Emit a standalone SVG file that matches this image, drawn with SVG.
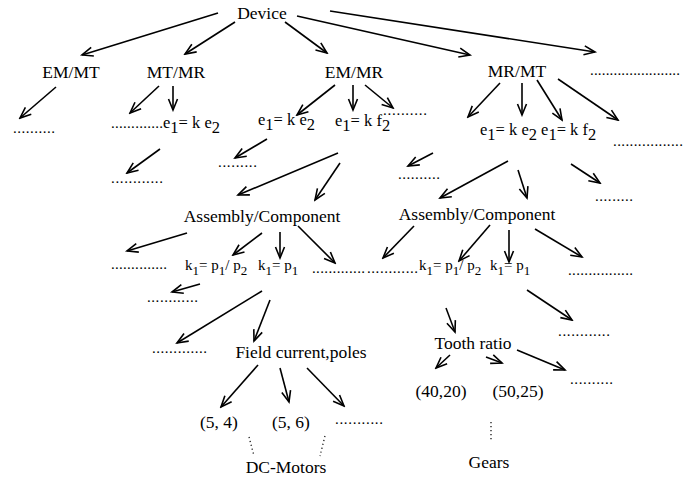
<svg xmlns="http://www.w3.org/2000/svg" width="683" height="479" viewBox="0 0 683 479">
<style>
text{font-family:"Liberation Serif","Times New Roman",serif;fill:#000}
.n{font-size:17.5px;text-anchor:middle}
.f{font-size:16.5px}
.k{font-size:15px}
.k tspan.s{font-size:13px}
.d{font-size:15px}
.c line{stroke:#000;stroke-width:1.6;marker-end:url(#ah)}
.dl{stroke:#000;stroke-width:1.2;stroke-dasharray:1.2 2.8;fill:none}
</style>
<defs>
<marker id="ah" viewBox="-12 -6 14 12" refX="0" refY="0" markerWidth="14" markerHeight="12" markerUnits="userSpaceOnUse" orient="auto">
<path d="M-11,-4.5 L0,0 L-11,4.5" fill="none" stroke="#000" stroke-width="1.6"/>
</marker>
</defs>
<rect width="683" height="479" fill="#fff"/>
<g class="c" id="connectors">
<line x1="218" y1="13" x2="82" y2="55"/>
<line x1="235" y1="22" x2="185" y2="54"/>
<line x1="285" y1="22" x2="327" y2="53"/>
<line x1="297" y1="16" x2="470" y2="55"/>
<line x1="330" y1="11" x2="595" y2="52"/>
<line x1="56" y1="87" x2="20" y2="118"/>
<line x1="159" y1="86" x2="130" y2="113"/>
<line x1="173" y1="86" x2="173" y2="110"/>
<line x1="335" y1="85" x2="297" y2="115"/>
<line x1="353" y1="85" x2="353" y2="110"/>
<line x1="365" y1="85" x2="393" y2="108"/>
<line x1="500" y1="83" x2="468" y2="117"/>
<line x1="522" y1="83" x2="522" y2="115"/>
<line x1="537" y1="80" x2="562" y2="120"/>
<line x1="558" y1="79" x2="618" y2="120"/>
<line x1="160" y1="149" x2="127" y2="173"/>
<line x1="267" y1="139" x2="235" y2="158"/>
<line x1="338" y1="153" x2="238" y2="195"/>
<line x1="340" y1="163" x2="315" y2="200"/>
<line x1="433" y1="153" x2="408" y2="166"/>
<line x1="508" y1="161" x2="440" y2="198"/>
<line x1="518" y1="170" x2="527" y2="198"/>
<line x1="571" y1="164" x2="600" y2="183"/>
<line x1="187" y1="233" x2="127" y2="251"/>
<line x1="262" y1="233" x2="233" y2="255"/>
<line x1="280" y1="232" x2="280" y2="258"/>
<line x1="298" y1="226" x2="335" y2="263"/>
<line x1="414" y1="226" x2="383" y2="258"/>
<line x1="490" y1="225" x2="459" y2="261"/>
<line x1="509" y1="230" x2="509" y2="262"/>
<line x1="535" y1="229" x2="582" y2="257"/>
<line x1="200" y1="284" x2="172" y2="292"/>
<line x1="262" y1="291" x2="177" y2="343"/>
<line x1="270" y1="300" x2="254" y2="341"/>
<line x1="527" y1="290" x2="572" y2="320"/>
<line x1="446" y1="308" x2="455" y2="332"/>
<line x1="258" y1="365" x2="221" y2="407"/>
<line x1="280" y1="368" x2="289" y2="402"/>
<line x1="307" y1="368" x2="344" y2="406"/>
<line x1="450" y1="355" x2="436" y2="368"/>
<line x1="486" y1="357" x2="502" y2="363"/>
<line x1="517" y1="350" x2="565" y2="370"/>
</g>
<g id="dotted-links">
<line class="dl" x1="249" y1="437" x2="254" y2="456"/>
<line class="dl" x1="325" y1="436" x2="320" y2="456"/>
<line class="dl" x1="491" y1="422" x2="491" y2="442"/>
</g>
<g id="device"><text class="n" x="262" y="19">Device</text></g>
<g id="em-mt"><text class="n" x="71" y="78">EM/MT</text></g>
<g id="mt-mr"><text class="n" x="176" y="78">MT/MR</text></g>
<g id="em-mr"><text class="n" x="354" y="78">EM/MR</text></g>
<g id="mr-mt"><text class="n" x="517" y="77">MR/MT</text></g>
<g id="more-top"><text class="d" x="590" y="75" textLength="90" lengthAdjust="spacing">.......................</text></g>
<g id="em-mt-more"><text class="d" x="13" y="133" textLength="42" lengthAdjust="spacing">..........</text></g>
<g id="mt-mr-eq">
<text class="d" x="111" y="128" textLength="52" lengthAdjust="spacing">.............</text>
<text class="f" x="163" y="128">e<tspan dy="5">1</tspan><tspan dy="-5">= k e</tspan><tspan dy="5">2</tspan></text>
</g>
<g id="em-mr-eq1"><text class="f" x="258" y="125">e<tspan dy="5">1</tspan><tspan dy="-5">= k e</tspan><tspan dy="5">2</tspan></text></g>
<g id="em-mr-eq2">
<text class="f" x="335" y="126">e<tspan dy="5">1</tspan><tspan dy="-5">= k f</tspan><tspan dy="5">2</tspan></text>
<text class="d" x="383" y="115" textLength="44" lengthAdjust="spacing">..........</text>
</g>
<g id="mr-mt-eq">
<text class="f" x="480" y="135">e<tspan dy="5">1</tspan><tspan dy="-5">= k e</tspan><tspan dy="5">2</tspan><tspan dy="-5"> e</tspan><tspan dy="5">1</tspan><tspan dy="-5">= k f</tspan><tspan dy="5">2</tspan></text>
<text class="d" x="613" y="146" textLength="70" lengthAdjust="spacing">.................</text>
</g>
<g id="more-r3">
<text class="d" x="111" y="183" textLength="52" lengthAdjust="spacing">............</text>
<text class="d" x="218" y="167" textLength="39" lengthAdjust="spacing">.........</text>
<text class="d" x="398" y="179" textLength="42" lengthAdjust="spacing">..........</text>
<text class="d" x="595" y="201" textLength="38" lengthAdjust="spacing">.........</text>
</g>
<g id="assembly-left"><text class="n" x="262" y="222">Assembly/Component</text></g>
<g id="assembly-right"><text class="n" x="477" y="220">Assembly/Component</text></g>
<g id="k-left">
<text class="d" x="111" y="269" textLength="56" lengthAdjust="spacing">..............</text>
<text class="k" x="185" y="270">k<tspan class="s" dy="5">1</tspan><tspan dy="-5">= p</tspan><tspan class="s" dy="5">1</tspan><tspan dy="-5">/ p</tspan><tspan class="s" dy="5">2</tspan></text>
<text class="k" x="258" y="270">k<tspan class="s" dy="5">1</tspan><tspan dy="-5">= p</tspan><tspan class="s" dy="5">1</tspan></text>
<text class="d" x="312" y="273" textLength="53" lengthAdjust="spacing">.............</text>
<text class="d" x="147" y="302" textLength="51" lengthAdjust="spacing">............</text>
</g>
<g id="k-right">
<text class="d" x="367" y="273" textLength="51" lengthAdjust="spacing">............</text>
<text class="k" x="419" y="270">k<tspan class="s" dy="5">1</tspan><tspan dy="-5">= p</tspan><tspan class="s" dy="5">1</tspan><tspan dy="-5">/ p</tspan><tspan class="s" dy="5">2</tspan></text>
<text class="k" x="490" y="270">k<tspan class="s" dy="5">1</tspan><tspan dy="-5">= p</tspan><tspan class="s" dy="5">1</tspan></text>
<text class="d" x="568" y="275" textLength="65" lengthAdjust="spacing">................</text>
<text class="d" x="558" y="336" textLength="52" lengthAdjust="spacing">............</text>
</g>
<g id="field">
<text class="d" x="152" y="353" textLength="55" lengthAdjust="spacing">.............</text>
<text class="n" x="301" y="358">Field current,poles</text>
</g>
<g id="tooth">
<text class="n" x="473" y="349">Tooth ratio</text>
<text class="d" x="570" y="384" textLength="43" lengthAdjust="spacing">..........</text>
</g>
<g id="p54"><text class="n" x="219" y="428">(5, 4)</text></g>
<g id="p56"><text class="n" x="291" y="428">(5, 6)</text></g>
<g id="p-more"><text class="d" x="335" y="424" textLength="48" lengthAdjust="spacing">...........</text></g>
<g id="g4020"><text class="n" x="441" y="397">(40,20)</text></g>
<g id="g5025"><text class="n" x="518" y="397">(50,25)</text></g>
<g id="dc-motors"><text class="n" x="286" y="473">DC-Motors</text></g>
<g id="gears"><text class="n" x="489" y="468">Gears</text></g>
</svg>
